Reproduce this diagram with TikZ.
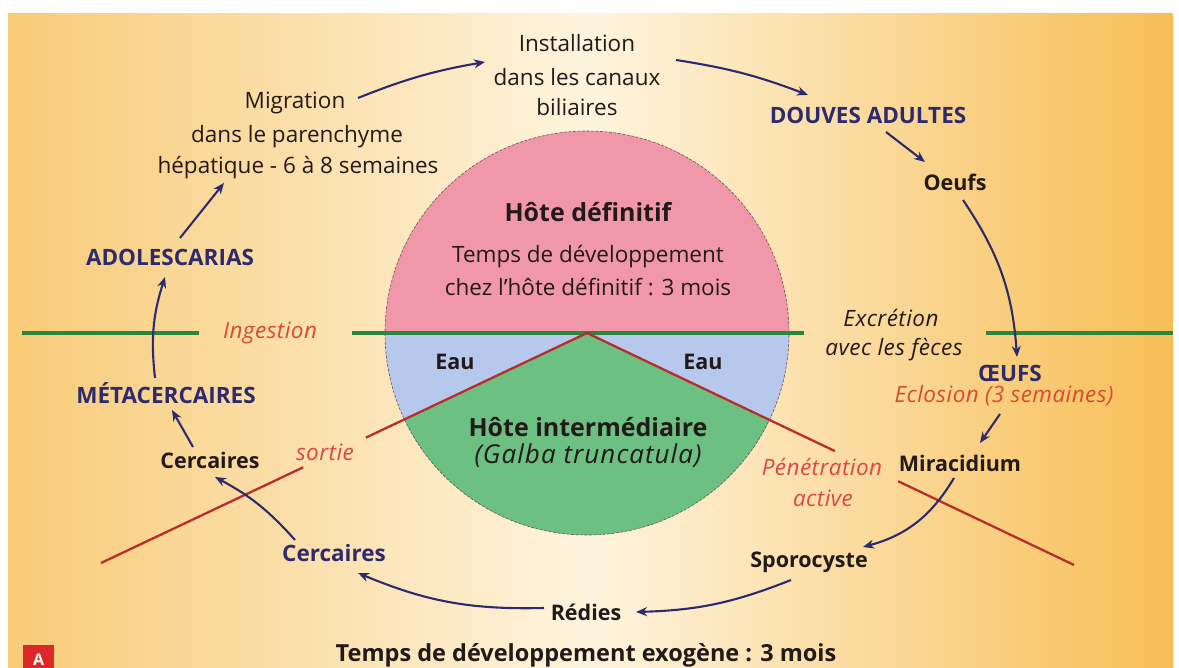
\documentclass[tikz,border=0pt]{standalone}
\usepackage{fontspec}
\setmainfont{Open Sans}
\usetikzlibrary{arrows.meta,calc}
\definecolor{navy}{RGB}{45,42,110}
\definecolor{ink}{RGB}{35,25,25}
\definecolor{redtxt}{RGB}{215,75,50}
\definecolor{redpk}{RGB}{220,70,75}
\definecolor{redln}{RGB}{185,45,45}
\definecolor{grnln}{RGB}{40,135,60}
\definecolor{pinkc}{RGB}{240,152,170}
\definecolor{bluec}{RGB}{182,200,236}
\definecolor{greenc}{RGB}{108,192,130}
\definecolor{bgL}{RGB}{248,203,120}
\definecolor{bgM}{RGB}{254,244,222}
\definecolor{bgR}{RGB}{247,190,85}
\definecolor{abox}{RGB}{220,40,40}
\definecolor{rim}{RGB}{110,80,80}
\tikzset{
 reg/.style={inner sep=1pt, text=ink, font=\fontsize{22.5}{25}\selectfont},
 itink/.style={inner sep=1pt, text=ink, font=\fontsize{22.5}{25}\selectfont\itshape\addfontfeatures{LetterSpace=2}},
 bnavy/.style={inner sep=1pt, text=navy, font=\fontsize{22.5}{25}\selectfont\bfseries},
 bink/.style={inner sep=1pt, text=ink, font=\fontsize{21.5}{24}\selectfont\bfseries},
 btitle/.style={inner sep=1pt, text=ink, font=\fontsize{25}{28}\selectfont\bfseries},
 redit/.style={inner sep=1pt, text=redtxt, font=\fontsize{22.5}{25}\selectfont\itshape\addfontfeatures{LetterSpace=2}},
 arr/.style={draw=navy, line width=2.1pt, -{Stealth[length=11pt,width=9pt]}},
 redline/.style={draw=redln, line width=2.3pt},
 greenline/.style={draw=grnln, line width=4pt},
}
\begin{document}
\begin{tikzpicture}[x=1pt,y=1pt]
\useasboundingbox (0,0) rectangle (1179,-668);
\fill[white] (0,0) rectangle (1179,-668);
\shade[left color=bgL,right color=bgR,middle color=bgM] (8,-14) rectangle (1173,-668);
% circle
\coordinate (C) at (587,-333);
\coordinate (RL) at (101,-563);
\coordinate (RR) at (1074,-565);
\begin{scope}
 \clip (C) circle (202pt);
 \fill[pinkc] (380,-120) rectangle (800,-333);
 \fill[bluec] (380,-333) rectangle (800,-545);
 \fill[greenc] (C) -- ($(C)!2!(RL)$) -- (0,-700) -- (1179,-700) -- ($(C)!2!(RR)$) -- cycle;
\end{scope}
\draw[rim, line width=0.6pt, dash pattern=on 3pt off 1.5pt] (C) circle (202pt);
% horizontal separation
\draw[greenline] (22,-333) -- (199,-333);
\draw[greenline] (352,-333) -- (804,-333);
\draw[greenline] (986,-333) -- (1173,-333);
% red lines
\draw[redline] (C) -- ($(C)!0.455!(RL)$);
\draw[redline] ($(C)!0.584!(RL)$) -- (RL);
\draw[redline] (C) -- ($(C)!0.509!(RR)$);
\draw[redline] ($(C)!0.639!(RR)$) -- (RR);
% texts
\node[reg] (inst1) at (577,-43) {Installation};
\node[reg] (inst2) at (577,-77) {dans les canaux};
\node[reg] (inst3) at (577,-107) {biliaires};
\node[reg] (mig1) at (295,-103) {Migration};
\node[reg] (mig2) at (297,-137) {dans le parenchyme};
\node[reg] (mig3) at (298,-168) {hépatique - 6 à 8 semaines};
\node[bnavy] (douves) at (868,-115) {DOUVES ADULTES};
\node[bink] (oeufs) at (955,-182) {Oeufs};
\node[btitle] (hd) at (588,-212) {Hôte définitif};
\node[reg] (hd1) at (588,-257) {Temps de développement};
\node[reg] (hd2) at (588,-287) {chez l’hôte définitif : 3 mois};
\node[bnavy] (adol) at (170,-257) {ADOLESCARIAS};
\node[redit] (ingest) at (270,-333) {Ingestion};
\node[itink] (excr1) at (891,-318) {Excrétion};
\node[itink] (excr2) at (894,-350) {avec les fèces};
\node[bink] (eauL) at (455,-362) {Eau};
\node[bink] (eauR) at (703,-362) {Eau};
\node[bnavy] (meta) at (166,-393) {MÉTACERCAIRES};
\node[bnavy] (OEUFS) at (1010,-373) {ŒUFS};
\node[redit] (eclo) at (1004,-396) {Eclosion (3 semaines)};
\node[btitle] (hi) at (588,-427) {Hôte intermédiaire};
\node[itink, font=\fontsize{26}{29}\selectfont\itshape\addfontfeatures{LetterSpace=4}] (galba) at (588,-456) {(Galba truncatula)};
\node[bink] (cerc1) at (210,-460) {Cercaires};
\node[redit, text=redpk] (sortie) at (325,-452) {sortie};
\node[redit, text=redpk] (pen1) at (822,-467) {Pénétration};
\node[redit, text=redpk] (pen2) at (823,-498) {active};
\node[bink] (mira) at (960,-463) {Miracidium};
\node[bnavy] (cerc2) at (334,-553) {Cercaires};
\node[bink] (sporo) at (809,-562) {Sporocyste};
\node[bink] (redies) at (586,-612) {Rédies};
\node[bink, font=\fontsize{23.5}{26}\selectfont\bfseries] (bottom) at (586,-655) {Temps de développement exogène : 3 mois};
\node[fill=abox, text=white, font=\fontsize{16}{18}\selectfont\bfseries, minimum width=31pt, minimum height=30pt, inner sep=0pt, anchor=north west] (A) at (23,-645) {A};
% arrows
\draw[arr] ($(mig1)+(63,5)$) to[bend left=6] ($(inst1)+(-92,-19)$);
\draw[arr] ($(inst1)+(99,-17)$) to[bend left=6] ($(douves)+(-60,20)$);
\draw[arr] ($(douves)+(18,-17)$) -- ($(oeufs)+(-30,20)$);
\draw[arr] ($(oeufs)+(8,-18)$) to[bend left=15] ($(OEUFS)+(7,16)$);
\draw[arr] ($(eclo)+(-4,-18)$) -- ($(mira)+(20,20)$);
\draw[arr] ($(mira)+(-6,-15)$) to[bend left=22] ($(sporo)+(54,15)$);
\draw[arr] ($(sporo)+(-18,-18)$) to[bend left=10] ($(redies)+(50,0)$);
\draw[arr] ($(redies)+(-42,4)$) to[bend left=12] ($(cerc2)+(24,-20)$);
\draw[arr] ($(cerc2)+(-39,13)$) to[bend right=10] ($(cerc1)+(5,-17)$);
\draw[arr] ($(cerc1)+(-17,13)$) -- ($(meta)+(6,-17)$);
\draw[arr] ($(meta)+(-11,15)$) to[bend left=12] ($(adol)+(-5,-20)$);
\draw[arr] ($(adol)+(10,19)$) -- ($(mig3)+(-74,-15)$);
\end{tikzpicture}
\end{document}
